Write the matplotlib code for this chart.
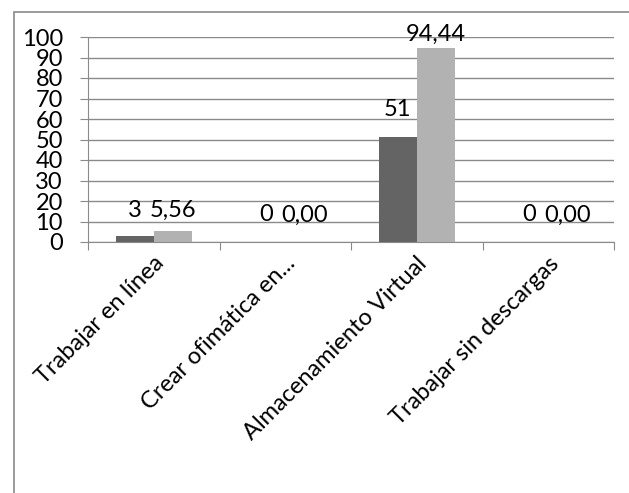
import numpy as np
import matplotlib
matplotlib.use("Agg")
import matplotlib.pyplot as plt
from matplotlib.patches import Rectangle

categories = ["Trabajar en línea", "Crear ofimática en...",
              "Almacenamiento Virtual", "Trabajar sin descargas"]
serie_1 = [3, 0, 51, 0]
serie_2 = [5.56, 0.00, 94.44, 0.00]
labels_1 = ["3", "0", "51", "0"]
labels_2 = ["5,56", "0,00", "94,44", "0,00"]
# label heights as placed in the original (data units)
label_y_1 = [15.6, 13.2, 64.4, 13.2]
label_y_2 = [15.6, 13.2, 101.2, 13.2]

plt.rcParams['font.family'] = ['Lato', 'DejaVu Sans']

DARK = "#646464"
LIGHT = "#b2b2b2"
GRID = "#8a8a8a"

fig = plt.figure(figsize=(6.29, 4.93), dpi=100)
ax = fig.add_axes([88 / 629, 1 - 242 / 493, (614 - 88) / 629, (242 - 37) / 493])

x = np.arange(len(categories))
w = 0.29
ax.bar(x - w / 2, serie_1, w, color=DARK, zorder=3)
ax.bar(x + w / 2, serie_2, w, color=LIGHT, zorder=3)

for i in range(len(categories)):
    ax.text(x[i] - w / 2, label_y_1[i], labels_1[i], ha="center", va="center",
            fontsize=17, zorder=4)
    ax.text(x[i] + w / 2, label_y_2[i], labels_2[i], ha="center", va="center",
            fontsize=17, zorder=4)

ax.set_xlim(-0.5, len(categories) - 0.5)
ax.set_ylim(0, 100)
ax.set_yticks(np.arange(0, 101, 10))
ax.yaxis.grid(True, color=GRID, linewidth=1, zorder=0)
ax.tick_params(axis="y", labelsize=17, length=6, color=GRID, pad=12)
for t in ax.get_yticklabels():
    t.set_verticalalignment("center_baseline")

# category boundary ticks
ax.set_xticks(np.arange(-0.5, len(categories), 1.0))
ax.set_xticklabels([])
ax.tick_params(axis="x", length=6, color=GRID)
for i, cat in enumerate(categories):
    ax.annotate(cat, xy=(x[i], 0), xycoords=("data", "axes fraction"),
                xytext=(5, -13), textcoords="offset points",
                rotation=45, rotation_mode="anchor", ha="right", va="center",
                fontsize=17)

for s in ["top", "right"]:
    ax.spines[s].set_visible(False)
ax.spines["left"].set_color(GRID)
ax.spines["bottom"].set_color(GRID)

# outer chart border (cropped on right and bottom)
fig.patches.append(Rectangle((14 / 629, -0.1), 1.2, 1 - 12 / 493 + 0.1,
                             transform=fig.transFigure, fill=False,
                             edgecolor="#8a8a8a", linewidth=1.2))

fig.savefig("out.png", dpi=100)
